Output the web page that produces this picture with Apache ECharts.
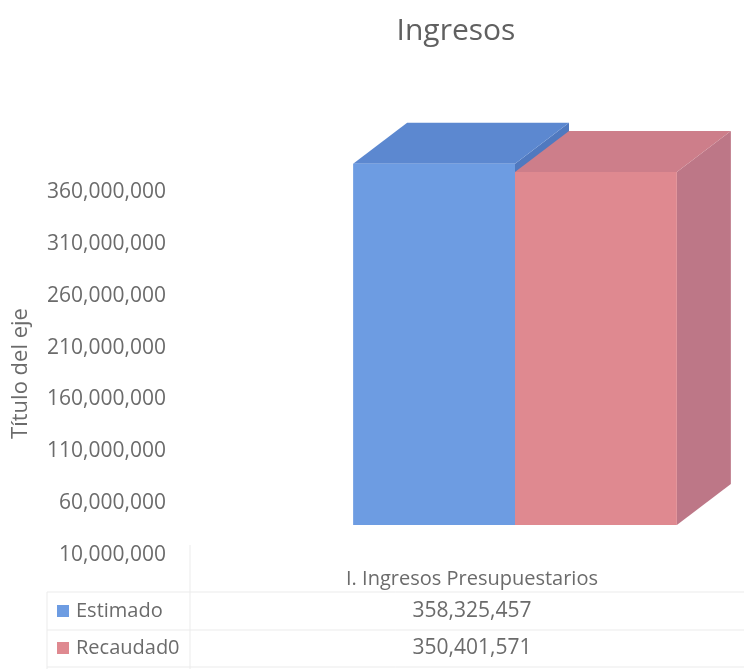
<!DOCTYPE html>
<html>
<head>
<meta charset="utf-8">
<script src="https://cdn.jsdelivr.net/npm/echarts@6/dist/echarts.min.js"></script>
<style>
  html, body { margin: 0; padding: 0; background: #fff; }
  #main { width: 744px; height: 669px; }
</style>
</head>
<body>
<div id="main"></div>
<script>
// datos del gráfico
var categories = ['I. Ingresos Presupuestarios'];
var seriesNames = ['Estimado', 'Recaudad0'];
var estimado = [358325457];
var recaudado = [350401571];
var yMin = 10000000, yMax = 360000000, yStep = 50000000;

var fontFam = '"Open Sans", "Noto Sans", sans-serif';
var txtColor = '#6b6b6b';
// colores: frente, tapa, costado
var faces = [
    ['#6d9ce2', '#5c88d0', '#5079bf'],
    ['#df8990', '#cd7e8a', '#bd7787']
];
// desplazamiento de la cara frontal y profundidad del "3D"
var shiftX = 43, shiftY = -30, depthX = 54, depthY = -41;

var myChart = echarts.init(document.getElementById('main'));

function fmt(v) {
    return Number(v).toLocaleString('en-US');
}

function render3d(params, api) {
    var cat = api.value(0);
    var top = api.coord([cat, api.value(1)]);
    var base = api.coord([cat, yMin]);
    var w = api.size([1, 0])[0] * 0.287;
    var x0 = top[0] + shiftX + (params.seriesIndex - 1) * w;
    var y0 = top[1] + shiftY;
    var yb = base[1] + shiftY;
    var c = faces[params.seriesIndex];
    return {
        type: 'group',
        children: [{
            type: 'polygon',
            shape: { points: [[x0 + w, y0], [x0 + w + depthX, y0 + depthY], [x0 + w + depthX, yb + depthY], [x0 + w, yb]] },
            style: { fill: c[2] }
        }, {
            type: 'polygon',
            shape: { points: [[x0, y0], [x0 + w, y0], [x0 + w + depthX, y0 + depthY], [x0 + depthX, y0 + depthY]] },
            style: { fill: c[1] }
        }, {
            type: 'rect',
            shape: { x: x0, y: y0, width: w, height: yb - y0 },
            style: { fill: c[0] }
        }]
    };
}

function toData(arr) {
    return arr.map(function (v, i) { return [i, v]; });
}

option = {
    backgroundColor: '#fff',
    title: {
        text: 'Ingresos',
        left: 451,
        textAlign: 'center',
        top: 11,
        textStyle: { fontFamily: fontFam, fontSize: 30, fontWeight: 'normal', color: '#606060' }
    },
    grid: { left: 190, top: 192, width: 564, bottom: 114, outerBoundsMode: 'none' },
    xAxis: {
        type: 'category',
        data: categories,
        axisLine: { show: false },
        axisTick: { show: false },
        axisLabel: { margin: 14, fontFamily: fontFam, fontSize: 20, color: txtColor }
    },
    yAxis: {
        type: 'value',
        min: yMin,
        max: yMax,
        interval: yStep,
        name: 'Título del eje',
        nameLocation: 'middle',
        nameGap: 158,
        nameRotate: 90,
        nameTextStyle: { fontFamily: fontFam, fontSize: 22, color: txtColor },
        axisLine: { show: false },
        axisTick: { show: false },
        splitLine: { show: false },
        axisLabel: {
            margin: 24,
            fontFamily: fontFam,
            fontSize: 21,
            color: txtColor,
            formatter: fmt
        }
    },
    series: [{
        name: seriesNames[0],
        type: 'custom',
        renderItem: render3d,
        data: toData(estimado)
    }, {
        name: seriesNames[1],
        type: 'custom',
        renderItem: render3d,
        data: toData(recaudado)
    }]
};
myChart.setOption(option);

// tabla de datos debajo del eje
var colX = myChart.convertToPixel({ xAxisIndex: 0 }, categories[0]);
var rowY = [611, 648];
var lineCol = '#ebebeb';
var table = [
    { type: 'line', shape: { x1: 47, y1: 592, x2: 744, y2: 592 }, style: { stroke: lineCol, lineWidth: 1 } },
    { type: 'line', shape: { x1: 47, y1: 630, x2: 744, y2: 630 }, style: { stroke: lineCol, lineWidth: 1 } },
    { type: 'line', shape: { x1: 47, y1: 667, x2: 744, y2: 667 }, style: { stroke: lineCol, lineWidth: 1 } },
    { type: 'line', shape: { x1: 47, y1: 592, x2: 47, y2: 669 }, style: { stroke: lineCol, lineWidth: 1 } },
    { type: 'line', shape: { x1: 190, y1: 545, x2: 190, y2: 669 }, style: { stroke: lineCol, lineWidth: 1 } }
];
var vals = [estimado, recaudado];
seriesNames.forEach(function (name, i) {
    table.push({
        type: 'rect',
        shape: { x: 57, y: rowY[i] - 6, width: 12, height: 12 },
        style: { fill: faces[i][0] }
    });
    table.push({
        type: 'text',
        x: 76, y: rowY[i],
        style: { text: name, fontFamily: fontFam, fontSize: 20, fill: txtColor, verticalAlign: 'middle' }
    });
    table.push({
        type: 'text',
        x: colX, y: rowY[i],
        style: { text: fmt(vals[i][0]), fontFamily: fontFam, fontSize: 21, fill: txtColor, align: 'center', verticalAlign: 'middle' }
    });
});
myChart.setOption({ graphic: table });
</script>
</body>
</html>
